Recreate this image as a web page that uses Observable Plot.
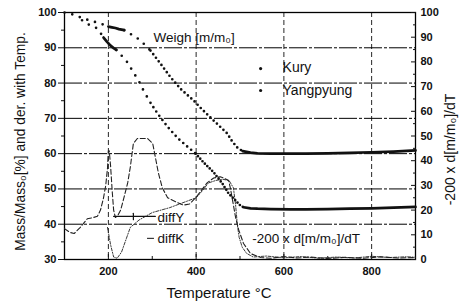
<!DOCTYPE html>
<html><head><meta charset="utf-8">
<script src="https://cdn.jsdelivr.net/npm/d3@7"></script>
<script src="https://cdn.jsdelivr.net/npm/@observablehq/plot@0.6"></script>
<style>body{margin:0;background:#fff}</style>
</head><body><div id="chart"></div>
<script>
// ---- data ----
const kuryT = [100,107,121,143,164,182,200,208,216,224,236,244,257,273,289,296,320,342,365,394,410,433,450,471,482,494,506,524,540,570,615,650,700,750,800,850,900];
const kuryW = [100,99.7,99.4,98.3,97.5,96.9,96.0,95.8,95.6,95.3,95.0,94.3,93.5,92.1,90.1,89.2,85.3,81.6,78.3,75.1,73.0,70.2,68.2,65.7,63.5,61.7,60.7,60.3,60.1,60.0,60.0,60.0,60.1,60.2,60.4,60.6,60.9];
const yangT = [100,107,121,140,159,175,189,197,205,212,218,230,244,257,269,280,289,296,312,335,358,380,399,417,440,460,474,490,499,508,524,540,570,615,650,700,750,800,850,900];
const yangW = [100,99.7,99.3,97.8,96.3,95.5,92.9,91.7,90.6,89.9,89.4,87.8,85.8,83.0,80.7,77.9,75.9,74.4,71.4,67.6,64.4,62.0,60.0,57.5,54.7,51.5,48.7,46.7,45.5,44.8,44.5,44.4,44.3,44.2,44.2,44.3,44.4,44.5,44.7,44.9];
const diffYT = [100,112,122,136,152,166,175,182,189,194,198,200,202,205,209,212,216,222,228,234,244,250,257,266,289,301,307,314,323,335,358,371,385,399,410,425,440,455,463,474,478,490,497,508,524,547,570,600,630,660,700,740,780,820,860,900];
const diffYV = [12.5,11,10.5,13,16.5,17,17.5,20,25,30,37,44,44,38,27,20,17,18,20,24,31,37.4,47,49,49,47,41.5,35,29,25,23,22,22.5,25,27.5,31,33,33.5,33,32,29,17,12,6.5,2.4,0.8,0.5,1.2,0.6,1.0,0.4,0.9,0.5,1.1,0.6,0.8];
const diffKT = [198,205,212,220,230,244,250,270,300,340,370,400,415,428,445,460,475,485,490,494,498,505,515,530,560,600,640,680,720,760,800,840,880,900];
const diffKV = [13,6,1,0.5,3,10,13,16,19,21,23,25,28,31,32,32.5,32,29,22,14,9,5,2.5,1,1.4,0.7,1.2,0.5,1.0,0.6,1.3,0.8,1.1,0.9];
const xTicks = [200,400,600,800];
const xMinor = [300,500,700];
const leftTicks = [30,40,50,60,70,80,90,100];
const leftMinor = [35,45,55,65,75,85,95];
const gridValues = [40,50,60,70,80,90];
const rightTicks = [0,10,20,30,40,50,60,70,80,90,100];
const rightMinor = [5,15,25,35,45,55,65,75,85,95];

// right axis (0..100) drawn on the left scale (30..100)
const toLeft = v => 30 + v * 0.7;
const fromLeft = y => Math.round((y - 30) / 0.7);

const rows = (T, V) => T.map((t, i) => ({T: t, V: V[i]}));
const kury = rows(kuryT, kuryW), yang = rows(yangT, yangW);
const diffY = rows(diffYT, diffYV), diffK = rows(diffKT, diffKV);

const dotStyles = {
  sparse: {strokeDasharray: "0,8"},
  medium: {strokeDasharray: "0,4.5"},
  medium5: {strokeDasharray: "0,5.2"},
  dense: {strokeDasharray: "0,3.4"},
  solid: {}
};
const kuryParts = [[100,200,"sparse"],[200,236,"solid"],[236,296,"sparse"],[296,506,"medium"],[506,900,"solid"]];
const yangParts = [[140,189,"sparse"],[189,218,"solid"],[218,296,"sparse"],[296,399,"medium5"],[399,508,"dense"],[508,900,"solid"]];

function weightMarks(data, parts) {
  return parts.map(([a, b, s]) => Plot.line(data.filter(d => d.T >= a && d.T <= b), {
    x: "T", y: "V", stroke: "#111", strokeWidth: 2.7, strokeLinecap: "round", ...dotStyles[s]
  }));
}

const font = "'Liberation Sans', Arial, sans-serif";
const ink = "#111";

const chart = Plot.plot({
  width: 460, height: 305,
  marginLeft: 64, marginRight: 45, marginTop: 12, marginBottom: 46,
  x: {domain: [100, 900]},
  y: {domain: [30, 100]},
  style: {fontFamily: font, background: "#fff", color: ink},
  marks: [
    Plot.gridY(gridValues, {stroke: "#000", strokeOpacity: 1, strokeWidth: 1, strokeDasharray: "18,2,3,2"}),
    Plot.gridX(xTicks, {stroke: "#000", strokeOpacity: 0.85, strokeWidth: 1, strokeDasharray: "5,3"}),
    Plot.frame({stroke: "#000", strokeWidth: 1.3}),
    // axes
    Plot.axisY(leftTicks, {anchor: "left", tickSize: 6, tickPadding: 2, fontSize: 11, fontWeight: "bold", label: null}),
    Plot.axisY(leftMinor, {anchor: "left", tickSize: 3, tickFormat: () => "", label: null}),
    Plot.axisY(rightTicks.map(toLeft), {anchor: "right", tickSize: 0, tickPadding: 5, tickFormat: fromLeft, fontSize: 11, fontWeight: "bold", label: null}),
    Plot.axisY(rightTicks.map(toLeft), {anchor: "right", tickSize: -5, tickFormat: () => "", label: null}),
    Plot.axisY(rightMinor.map(toLeft), {anchor: "right", tickSize: -3, tickFormat: () => "", label: null}),
    Plot.axisX(xTicks, {anchor: "bottom", tickSize: 0, tickPadding: 8, fontSize: 11, fontWeight: "bold", label: null}),
    Plot.axisX(xTicks, {anchor: "bottom", tickSize: -5, tickFormat: () => "", label: null}),
    Plot.axisX(xMinor, {anchor: "bottom", tickSize: -3, tickFormat: () => "", label: null}),
    // axis titles
    Plot.text(["Temperature °C"], {x: 500, y: 30, dx: -21, dy: 34, fontSize: 15, lineAnchor: "middle", fill: ink}),
    Plot.text(["Mass/Mass₀[%] and der. with Temp."], {x: 100, y: 65, rotate: -90, dx: -44, dy: 5.5, fontSize: 13.8, textAnchor: "middle", lineAnchor: "middle", fill: ink}),
    Plot.text(["-200 x d[m/m₀]/dT"], {x: 900, y: 65, rotate: -90, dx: 35, dy: 13.5, fontSize: 14, textAnchor: "middle", lineAnchor: "middle", fill: ink}),
    // derivative curves
    Plot.line(diffY, {x: "T", y: d => toLeft(d.V), stroke: "#222", strokeWidth: 1.1, strokeDasharray: "5,2.5"}),
    Plot.line(diffK, {x: "T", y: d => toLeft(d.V), stroke: "#222", strokeWidth: 0.9, strokeDasharray: "3,1.5,1,1.5"}),
    // weight curves (dotted)
    ...weightMarks(kury, kuryParts),
    ...weightMarks(yang, yangParts),
    // annotations
    Plot.text(["Weigh [m/m₀]"], {x: 303, y: 92.9, textAnchor: "start", fontSize: 13.5, fill: ink}),
    Plot.dot([[547, 84.1], [547, 77.9]], {x: d => d[0], y: d => d[1], r: 1.6, fill: ink, stroke: null}),
    Plot.text(["Kury"], {x: 597, y: 84.3, textAnchor: "start", fontSize: 14, fill: ink}),
    Plot.text(["Yangpyung"], {x: 597, y: 77.9, textAnchor: "start", fontSize: 14, fill: ink}),
    Plot.line([[212, 42.2], [307, 42.2]], {stroke: ink, strokeWidth: 1.2}),
    Plot.line([[257, 41.3], [257, 43.1]], {stroke: ink, strokeWidth: 1.2}),
    Plot.text(["diffY"], {x: 312, y: 41.9, textAnchor: "start", fontSize: 13.5, fill: ink}),
    Plot.line([[289, 36], [303, 36]], {stroke: ink, strokeWidth: 1}),
    Plot.text(["diffK"], {x: 312, y: 36.0, textAnchor: "start", fontSize: 13.5, fill: ink}),
    Plot.text(["-200 x d[m/m₀]/dT"], {x: 528, y: 36.0, textAnchor: "start", fontSize: 13.5, fill: ink})
  ]
});
document.getElementById("chart").appendChild(chart);
</script>
</body></html>
